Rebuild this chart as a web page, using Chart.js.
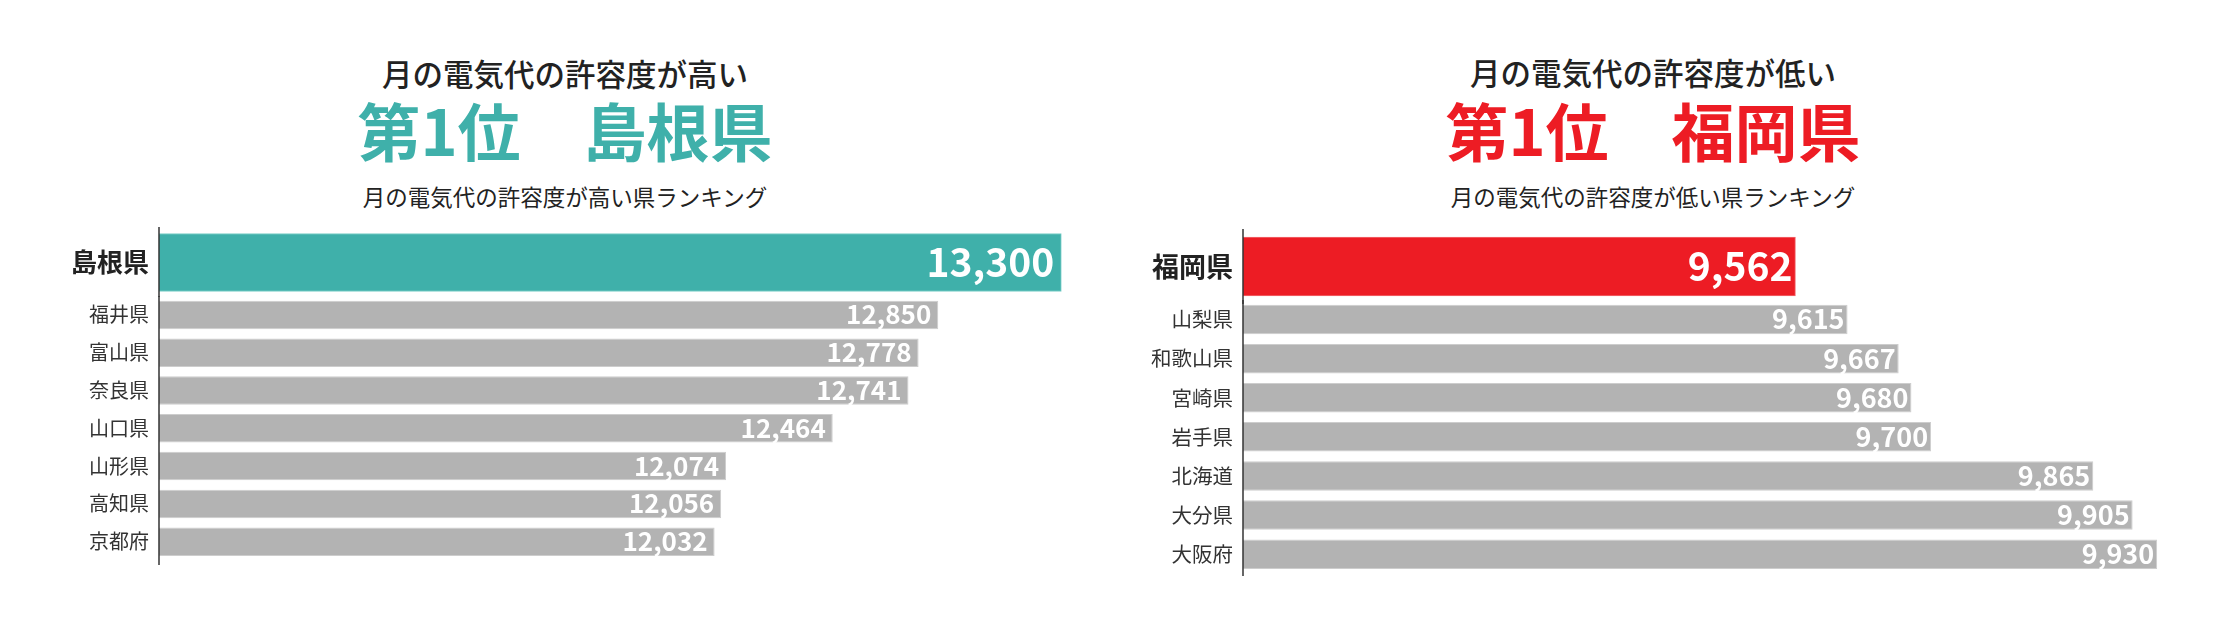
<!DOCTYPE html>
<html lang="ja">
<head>
<meta charset="utf-8">
<script src="https://cdn.jsdelivr.net/npm/chart.js@4.4.1/dist/chart.umd.min.js"></script>
<style>
  html, body { margin: 0; padding: 0; background: #fff; }
  body { width: 2234px; height: 629px; position: relative; overflow: hidden;
         font-family: 'Noto Sans CJK JP', 'Noto Sans', sans-serif; color: #222; }
  .t { position: absolute; width: 800px; text-align: center; line-height: 1; white-space: nowrap; }
  .t1 { font-size: 30.5px; font-weight: 500; }
  .t2 { font-size: 63px; font-weight: 700; }
  .t3 { font-size: 22.5px; font-weight: 400; }
  canvas { position: absolute; }
</style>
</head>
<body>
<div class="t t1" style="left:165px; top:58px;">月の電気代の許容度が高い</div>
<div class="t t2" style="left:165px; top:97px; color:#3fb0aa;">第1位　島根県</div>
<div class="t t3" style="left:165px; top:185px;">月の電気代の許容度が高い県ランキング</div>

<div class="t t1" style="left:1253px; top:57px;">月の電気代の許容度が低い</div>
<div class="t t2" style="left:1253px; top:97px; color:#ed1c24;">第1位　福岡県</div>
<div class="t t3" style="left:1253px; top:185px;">月の電気代の許容度が低い県ランキング</div>

<canvas id="highTop" width="1116" height="70" style="left:0; top:227px;"></canvas>
<canvas id="highRest" width="1116" height="269" style="left:0; top:296px;"></canvas>
<canvas id="lowTop" width="1109" height="75" style="left:1117px; top:229px;"></canvas>
<canvas id="lowRest" width="1109" height="276" style="left:1117px; top:300px;"></canvas>

<script>
// 月の電気代の許容度が高い県
const highPrefs = ['島根県', '福井県', '富山県', '奈良県', '山口県', '山形県', '高知県', '京都府'];
const highValues = [13300, 12850, 12778, 12741, 12464, 12074, 12056, 12032];
const highRange = [10000, 13500];

// 月の電気代の許容度が低い県
const lowPrefs = ['福岡県', '山梨県', '和歌山県', '宮崎県', '岩手県', '北海道', '大分県', '大阪府'];
const lowValues = [9562, 9615, 9667, 9680, 9700, 9865, 9905, 9930];
const lowRange = [9000, 10000];

Chart.defaults.font.family = "'Noto Sans CJK JP', 'Noto Sans', sans-serif";

// white value at the right end of each bar
const valueLabels = {
    id: 'valueLabels',
    afterDatasetsDraw(chart, args, opts) {
        const ctx = chart.ctx;
        const values = chart.data.datasets[0].data;
        ctx.save();
        ctx.fillStyle = '#fff';
        ctx.font = `bold ${opts.size}px 'Noto Sans CJK JP'`;
        ctx.textAlign = 'right';
        ctx.textBaseline = 'alphabetic';
        chart.getDatasetMeta(0).data.forEach((bar, i) => {
            ctx.fillText(values[i].toLocaleString('en-US'), bar.x - opts.pad, bar.y + opts.size * 0.366);
        });
        ctx.restore();
    }
};

const axisLine = {
    id: 'axisLine',
    afterDraw(chart) {
        const ctx = chart.ctx;
        const x = chart.chartArea.left;
        ctx.save();
        ctx.strokeStyle = '#333';
        ctx.lineWidth = 1.5;
        ctx.beginPath();
        ctx.moveTo(x, 0);
        ctx.lineTo(x, chart.height);
        ctx.stroke();
        ctx.restore();
    }
};

function drawRanking(id, labels, values, range, opt) {
    new Chart(document.getElementById(id), {
        type: 'bar',
        data: {
            labels: labels,
            datasets: [{
                data: values,
                backgroundColor: opt.color,
                borderColor: opt.edge,
                borderWidth: 1,
                borderSkipped: 'left',
                barThickness: opt.thickness,
                barPercentage: opt.barPct || 0.9,
                categoryPercentage: 1
            }]
        },
        options: {
            indexAxis: 'y',
            responsive: false,
            animation: false,
            devicePixelRatio: 1,
            layout: { padding: { top: opt.padTop || 0, bottom: opt.padBottom || 0 } },
            scales: {
                x: { display: false, min: range[0], max: range[1] },
                y: {
                    afterFit: (scale) => {
                        scale.width = opt.axisWidth;
                        scale.paddingTop = 0;
                        scale.paddingBottom = 0;
                    },
                    grid: { display: false, drawTicks: false },
                    border: { display: false },
                    ticks: {
                        padding: 10,
                        color: opt.labelColor,
                        font: { size: opt.labelSize, weight: opt.labelWeight }
                    }
                }
            },
            plugins: {
                legend: { display: false },
                tooltip: { enabled: false },
                valueLabels: { size: opt.valueSize, pad: opt.pad }
            }
        },
        plugins: [valueLabels, axisLine]
    });
}

drawRanking('highTop', highPrefs.slice(0, 1), highValues.slice(0, 1), highRange, {
    color: '#3fb0aa', edge: '#7ccfc9', thickness: 58, padTop: 1, axisWidth: 159,
    labelColor: '#222', labelSize: 26, labelWeight: 'bold', valueSize: 39, pad: 7
});
drawRanking('highRest', highPrefs.slice(1), highValues.slice(1), highRange, {
    color: '#b3b3b3', edge: '#cdcdcd', barPct: 0.754, padBottom: 4.4, axisWidth: 159,
    labelColor: '#333', labelSize: 20, labelWeight: 'normal', valueSize: 26, pad: 7
});
drawRanking('lowTop', lowPrefs.slice(0, 1), lowValues.slice(0, 1), lowRange, {
    color: '#ed1c24', edge: '#f26a6f', thickness: 59, axisWidth: 126,
    labelColor: '#222', labelSize: 27, labelWeight: 'bold', valueSize: 39, pad: 3
});
drawRanking('lowRest', lowPrefs.slice(1), lowValues.slice(1), lowRange, {
    color: '#b3b3b3', edge: '#cdcdcd', barPct: 0.754, padBottom: 2.3, axisWidth: 126,
    labelColor: '#333', labelSize: 20.5, labelWeight: 'normal', valueSize: 27, pad: 3
});
</script>
</body>
</html>
